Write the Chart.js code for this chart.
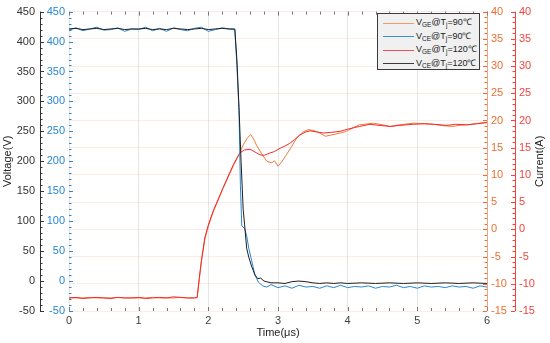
<!DOCTYPE html>
<html>
<head>
<meta charset="utf-8">
<script src="https://cdn.jsdelivr.net/npm/chart.js@4.4.1/dist/chart.umd.min.js"></script>
<style>
  html,body{margin:0;padding:0;background:#fff;}
  #wrap{position:relative;width:550px;height:343px;}
  #legend{position:absolute;left:377px;top:13px;width:103px;height:57px;background:#f0f0f0;border:1px solid #3a3a3a;
    font-family:"Liberation Sans",Arial,sans-serif;font-size:9px;color:#222;box-sizing:border-box;padding-top:2px;}
  .row{position:relative;height:13.6px;line-height:13.6px;white-space:nowrap;}
  .sw{position:absolute;left:5px;top:6.5px;width:31px;height:1px;}
  .lbl{position:absolute;left:38px;top:0;}
  sub{font-size:6.5px;vertical-align:-1.5px;line-height:0;}
</style>
</head>
<body>
<div id="wrap">
  <canvas id="c" width="550" height="343"></canvas>
  <div id="legend">
    <div class="row"><span class="sw" style="background:#f29a6e"></span><span class="lbl">V<sub>GE</sub>@T<sub>j</sub>=90℃</span></div>
    <div class="row"><span class="sw" style="background:#3a8fd6"></span><span class="lbl">V<sub>CE</sub>@T<sub>j</sub>=90℃</span></div>
    <div class="row"><span class="sw" style="background:#f0505a"></span><span class="lbl">V<sub>GE</sub>@T<sub>j</sub>=120℃</span></div>
    <div class="row"><span class="sw" style="background:#3a3a3a"></span><span class="lbl">V<sub>CE</sub>@T<sub>j</sub>=120℃</span></div>
  </div>
</div>
<script>
// ---------------- data ----------------
const legendLabels = ['VGE@Tj=90℃', 'VCE@Tj=90℃', 'VGE@Tj=120℃', 'VCE@Tj=120℃'];
const xTickLabels = [0, 1, 2, 3, 4, 5, 6];
const voltageTicks = [-50, 0, 50, 100, 150, 200, 250, 300, 350, 400, 450];
const currentTicks = [-15, -10, -5, 0, 5, 10, 15, 20, 25, 30, 35, 40];

// VCE @ Tj=90℃ (blue, voltage axis)
const tBlue = [0,0.1,0.2,0.3,0.4,0.5,0.6,0.7,0.8,0.9,1.0,1.1,1.2,1.3,1.4,1.5,1.6,1.7,1.8,1.9,2.0,2.1,2.2,2.3,
  2.38,2.41,2.44,2.46,2.48,2.52,2.55,2.58,2.62,2.67,2.72,2.78,2.84,2.9,3.0,3.1,3.2,3.3,3.4,3.5,3.6,3.7,3.8,3.9,
  4.0,4.1,4.2,4.3,4.4,4.5,4.6,4.7,4.8,4.9,5.0,5.1,5.2,5.3,5.4,5.5,5.6,5.7,5.8,5.9,6.0];
const vBlue = [419,423,418,421,424,419,420,423,417,421,420,424,418,422,417,423,420,418,422,424,417,420,423,421,
  420,360,285,160,92,88,76,55,35,10,-2,-8,-10,-6,-11,-8,-12,-7,-10,-9,-12,-8,-11,-7,
  -11,-9,-10,-8,-12,-9,-10,-7,-11,-9,-12,-8,-10,-9,-11,-8,-10,-9,-12,-8,-10];

// VCE @ Tj=120℃ (black, voltage axis)
const tBlack = [0,0.1,0.2,0.3,0.4,0.5,0.6,0.7,0.8,0.9,1.0,1.1,1.2,1.3,1.4,1.5,1.6,1.7,1.8,1.9,2.0,2.1,2.2,2.3,
  2.38,2.41,2.44,2.47,2.50,2.52,2.55,2.58,2.62,2.67,2.71,2.75,2.8,2.9,3.0,3.1,3.2,3.3,3.4,3.5,3.6,3.7,3.8,3.9,
  4.0,4.2,4.4,4.6,4.8,5.0,5.2,5.4,5.6,5.8,6.0];
const vBlack = [421,422,420,421,422,420,421,422,420,421,421,422,420,421,420,422,421,420,421,422,420,421,422,421,
  421,370,290,200,120,95,55,40,25,10,4,5,0,-3,-3,-4,-1,0,-1,-3,-4,-3,-4,-3,
  -4,-3,-4,-3,-4,-3,-4,-3,-4,-3,-4];

// VGE @ Tj=90℃ (orange, current axis)
const tOrange = [0,0.1,0.2,0.3,0.4,0.5,0.6,0.7,0.8,0.9,1.0,1.1,1.2,1.3,1.4,1.5,1.6,1.7,1.8,
  1.84,1.87,1.9,1.95,2.0,2.07,2.15,2.21,2.3,2.36,2.42,2.46,2.50,2.56,2.61,2.65,2.69,2.76,2.84,2.91,2.95,3.0,
  3.06,3.12,3.2,3.27,3.35,3.43,3.5,3.6,3.68,3.79,3.9,3.98,4.08,4.17,4.37,4.5,4.61,4.75,4.94,5.1,5.23,5.4,5.51,
  5.6,5.71,5.85,6.0];
const iOrange = [-12.6,-12.6,-12.6,-12.5,-12.6,-12.6,-12.6,-12.5,-12.6,-12.6,-12.6,-12.6,-12.5,-12.6,-12.6,-12.6,-12.5,-12.6,-12.6,
  -12.5,-9.2,-6.0,-1.8,0.6,3.2,5.6,7.5,10.0,11.7,13.2,14.3,15.5,16.8,17.4,16.6,15.5,14.0,12.5,12.2,12.6,11.6,
  12.5,13.7,15.3,16.8,17.8,18.3,18.2,17.7,17.1,17.4,17.7,18.0,18.7,19.2,19.5,19.2,18.9,19.2,19.5,19.4,19.3,19.0,18.9,
  19.1,19.2,19.4,19.7];

// VGE @ Tj=120℃ (red, current axis)
const tRed = [0,0.1,0.2,0.3,0.4,0.5,0.6,0.7,0.8,0.9,1.0,1.1,1.2,1.3,1.4,1.5,1.6,1.7,1.8,
  1.84,1.87,1.9,1.95,2.0,2.07,2.15,2.21,2.3,2.36,2.45,2.52,2.6,2.67,2.74,2.8,2.88,2.95,3.03,3.1,3.17,3.24,3.31,
  3.4,3.46,3.55,3.65,3.75,3.89,4.0,4.1,4.17,4.32,4.45,4.61,4.75,4.94,5.1,5.23,5.42,5.55,5.71,5.85,6.0];
const iRed = [-12.6,-12.5,-12.7,-12.6,-12.5,-12.6,-12.7,-12.5,-12.6,-12.6,-12.5,-12.7,-12.6,-12.5,-12.6,-12.4,-12.5,-12.6,-12.6,
  -12.5,-9.0,-5.8,-1.5,0.8,3.4,5.8,7.6,10.2,11.9,14.0,14.6,14.7,14.2,13.7,13.6,14.0,14.3,14.9,15.3,15.8,16.5,17.3,
  17.9,18.1,17.9,17.7,17.8,18.0,18.4,18.7,18.9,19.3,19.1,18.9,19.1,19.3,19.4,19.3,19.1,19.3,19.2,19.4,19.6];

// ---------------- chart ----------------
const FONT = '"Liberation Sans", Arial, sans-serif';
const C = {orange:'#ef7a3c', red:'#f52a2a', blue:'#2a86d1', black:'#1e1e1e',
           axBlack:'#333333', axBlue:'#2a86d1', axOrange:'#ec6f32', axRed:'#f2453d'};
const pts = (xs, ys) => xs.map((x, i) => ({x, y: ys[i]}));

const tickPlugin = {
  id: 'ticksAndTitles',
  afterDraw(chart) {
    const ctx = chart.ctx, ca = chart.chartArea, s = chart.scales;
    ctx.save();
    ctx.lineWidth = 1;
    const hline = (x1, x2, y, col) => { ctx.strokeStyle = col; ctx.beginPath(); ctx.moveTo(x1, Math.round(y)+0.5); ctx.lineTo(x2, Math.round(y)+0.5); ctx.stroke(); };
    const vline = (x, y1, y2, col) => { ctx.strokeStyle = col; ctx.beginPath(); ctx.moveTo(Math.round(x)+0.5, y1); ctx.lineTo(Math.round(x)+0.5, y2); ctx.stroke(); };
    // x ticks (inward, bottom and top)
    for (let k = 0; k <= 30; k++) {
      const v = k * 0.2; const px = s.x.getPixelForValue(v);
      const len = (k % 5 === 0) ? 4 : 3;
      vline(px, ca.bottom - len, ca.bottom, '#777');
      vline(px, ca.top, ca.top + len, '#777');
    }
    // black voltage axis (outer left)
    const xb = s.yV.right;
    vline(xb, ca.top, ca.bottom, C.axBlack);
    for (let v = -50; v <= 450; v += 10) {
      const py = s.yV.getPixelForValue(v);
      hline(xb, xb + (v % 50 === 0 ? 4 : 2.5), py, C.axBlack);
    }
    // blue voltage axis (inner left) ticks only
    const xl = ca.left;
    for (let v = -50; v <= 450; v += 10) {
      const py = s.yV2.getPixelForValue(v);
      hline(xl, xl + (v % 50 === 0 ? 4 : 2.5), py, C.axBlue);
    }
    // orange current axis (inner right)
    const xo = ca.right;
    vline(xo, ca.top, ca.bottom, 'rgba(236,111,50,0.55)');
    for (let v = -15; v <= 40; v += 1) {
      const py = s.yI.getPixelForValue(v);
      hline(xo - (v % 5 === 0 ? 4 : 2.5), xo, py, C.axOrange);
    }
    // red current axis (outer right)
    const xr = s.yI2.left;
    vline(xr, ca.top, ca.bottom, C.axRed);
    for (let v = -15; v <= 40; v += 1) {
      const py = s.yI2.getPixelForValue(v);
      hline(xr - (v % 5 === 0 ? 4 : 2.5), xr, py, C.axRed);
    }
    // right axis title, reading bottom-to-top
    ctx.fillStyle = '#222';
    ctx.font = '11px ' + FONT;
    ctx.textAlign = 'center'; ctx.textBaseline = 'middle';
    ctx.translate(540, (ca.top + ca.bottom) / 2);
    ctx.rotate(-Math.PI / 2);
    ctx.fillText('Current(A)', 0, 0);
    ctx.restore();
  }
};

const tickFont = {family: FONT, size: 11};
new Chart(document.getElementById('c'), {
  type: 'line',
  data: {
    datasets: [
      {label: legendLabels[3], data: pts(tBlack, vBlack), yAxisID: 'yV', borderColor: C.black, order: 1},
      {label: legendLabels[1], data: pts(tBlue, vBlue), yAxisID: 'yV2', borderColor: C.blue, order: 2},
      {label: legendLabels[0], data: pts(tOrange, iOrange), yAxisID: 'yI', borderColor: C.orange, order: 4},
      {label: legendLabels[2], data: pts(tRed, iRed), yAxisID: 'yI2', borderColor: C.red, order: 3}
    ].map(d => Object.assign(d, {borderWidth: 1, pointRadius: 0, tension: 0, fill: false}))
  },
  options: {
    responsive: false, animation: false, devicePixelRatio: 1,
    layout: {padding: {top: 10, left: 0, right: 0, bottom: 0}},
    plugins: {legend: {display: false}, tooltip: {enabled: false}},
    scales: {
      x: {
        type: 'linear', min: 0, max: 6,
        afterBuildTicks: sc => { sc.ticks = xTickLabels.map(v => ({value: v})); },
        ticks: {color: '#404040', font: tickFont, padding: 3, maxRotation: 0},
        grid: {color: '#e6e6e6', drawTicks: false},
        border: {display: false},
        title: {display: true, text: 'Time(μs)', color: '#222', font: {family: FONT, size: 11}, padding: {top: 0, bottom: 3}},
        afterFit: sc => { sc.height = 32; }
      },
      yV: {
        position: 'left', weight: 1, min: -50, max: 450,
        afterBuildTicks: sc => { sc.ticks = voltageTicks.map(v => ({value: v})); },
        ticks: {color: C.axBlack, font: tickFont, padding: 5},
        grid: {drawOnChartArea: false, drawTicks: false},
        border: {display: false},
        title: {display: true, text: 'Voltage(V)', color: '#222', font: {family: FONT, size: 11}, padding: {top: 1, bottom: 0}},
        afterFit: sc => { sc.width = 40; }
      },
      yV2: {
        position: 'left', weight: 0, min: -50, max: 450,
        afterBuildTicks: sc => { sc.ticks = voltageTicks.map(v => ({value: v})); },
        ticks: {color: C.axBlue, font: tickFont, padding: 4},
        grid: {drawOnChartArea: false, drawTicks: false},
        border: {display: false},
        afterFit: sc => { sc.width = 29; }
      },
      yI: {
        position: 'right', weight: 0, min: -15, max: 40,
        afterBuildTicks: sc => { sc.ticks = currentTicks.map(v => ({value: v})); },
        ticks: {color: C.axOrange, font: tickFont, padding: 4},
        grid: {drawOnChartArea: true, drawTicks: false, color: 'rgba(240,130,100,0.16)'},
        border: {display: false},
        afterFit: sc => { sc.width = 28; }
      },
      yI2: {
        position: 'right', weight: 1, min: -15, max: 40,
        afterBuildTicks: sc => { sc.ticks = currentTicks.map(v => ({value: v})); },
        ticks: {color: C.axRed, font: tickFont, padding: 4},
        grid: {drawOnChartArea: false, drawTicks: false},
        border: {display: false},
        afterFit: sc => { sc.width = 35; }
      }
    }
  },
  plugins: [tickPlugin]
});
</script>
</body>
</html>
